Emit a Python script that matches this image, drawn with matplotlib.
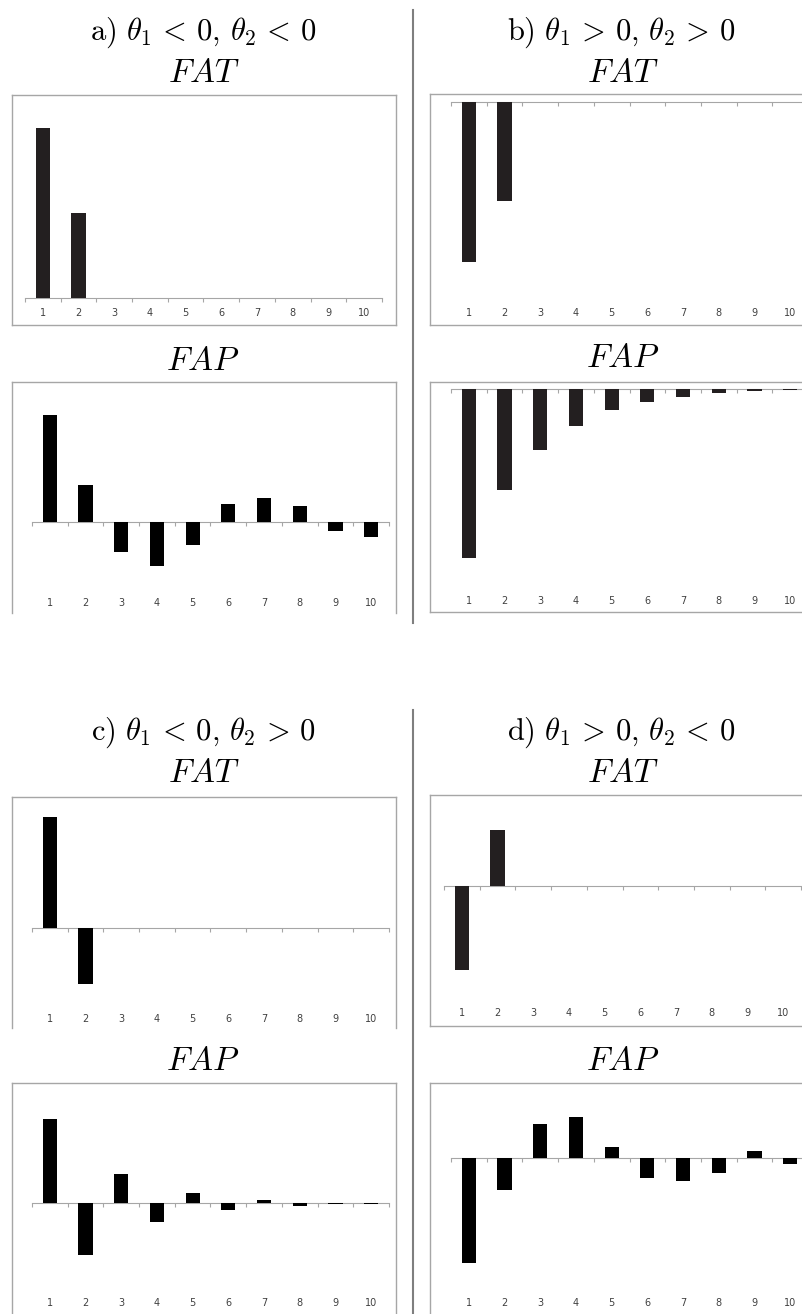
import matplotlib
matplotlib.use("Agg")
import matplotlib.pyplot as plt
from matplotlib.lines import Line2D
import numpy as np

plt.rcParams['mathtext.fontset'] = 'cm'

W, H = 803, 1314
lags = list(range(1, 11))

# bar heights (arbitrary units)
fat_a = [170, 85, 0, 0, 0, 0, 0, 0, 0, 0]
fap_a = [107, 37, -30, -44, -23, 18, 24, 16, -9, -15]
fat_b = [-160, -99, 0, 0, 0, 0, 0, 0, 0, 0]
fap_b = [-169, -101, -61, -37, -21, -13, -8, -4, -2.5, -1]
fat_c = [111, -56, 0, 0, 0, 0, 0, 0, 0, 0]
fap_c = [84, -52, 29, -19, 10, -7, 3.5, -2.5, -0.5, -1.3]
fat_d = [-84, 56, 0, 0, 0, 0, 0, 0, 0, 0]
fap_d = [-105, -32, 34, 41, 11, -20, -23, -15, 7, -6]

titles = [r"$\mathrm{a)}\ \theta_1 \,<\, 0,\, \theta_2 \,<\, 0$",
          r"$\mathrm{b)}\ \theta_1 \,>\, 0,\, \theta_2 \,>\, 0$",
          r"$\mathrm{c)}\ \theta_1 \,<\, 0,\, \theta_2 \,>\, 0$",
          r"$\mathrm{d)}\ \theta_1 \,>\, 0,\, \theta_2 \,<\, 0$"]

fig = plt.figure(figsize=(W / 100, H / 100), dpi=100)
frame_col = '#a6a6a6'


def panel(box, base, x_start, lab_y, vals, color, bottom_edge, step=35.7):
    x0, y0, x1, y1 = box
    rect = [x0 / W, 1 - y1 / H, (x1 - x0) / W, (y1 - y0) / H]
    # outer frame
    fr = fig.add_axes(rect)
    fr.set_xticks([])
    fr.set_yticks([])
    for sp in fr.spines.values():
        sp.set_color(frame_col)
        sp.set_linewidth(1)
    fr.spines['bottom'].set_visible(bottom_edge)

    ax = fig.add_axes(rect)
    ax.patch.set_visible(False)
    ax.set_xlim(0.5 + (x0 - x_start) / step, 0.5 + (x1 - x_start) / step)
    ax.set_ylim(base - y1, base - y0)
    ax.bar(lags, vals, width=0.4, color=color, zorder=3)
    for s in ['left', 'right', 'top']:
        ax.spines[s].set_visible(False)
    ax.spines['bottom'].set_position(('data', 0))
    ax.spines['bottom'].set_bounds(0.5, 10.5)
    ax.spines['bottom'].set_color(frame_col)
    ax.set_yticks([])
    ax.set_xticks(np.arange(0.5, 11, 1))
    ax.set_xticklabels([])
    ax.tick_params(axis='x', length=3, color=frame_col, direction='out')

    sec = ax.secondary_xaxis((y1 - (lab_y - 4.5)) / (y1 - y0))
    sec.patch.set_visible(False)
    sec.set_xticks(lags)
    sec.tick_params(length=0, pad=0, labelsize=7, labelcolor='#404040')
    for sp in sec.spines.values():
        sp.set_visible(False)


panel((12, 95, 396, 325), 298, 25, 313, fat_a, '#231f20', True)
panel((12, 382, 396, 613), 522, 32, 602, fap_a, 'black', False)
panel((430, 94, 812, 325), 102, 451, 313, fat_b, '#231f20', True)
panel((430, 382, 812, 612), 389, 451, 600, fap_b, '#231f20', True)
panel((12, 797, 396, 1028), 928, 32, 1018, fat_c, 'black', False)
panel((12, 1083, 396, 1320), 1203, 32, 1303, fap_c, 'black', False)
panel((430, 795, 812, 1026), 886, 444, 1013, fat_d, '#231f20', True)
panel((430, 1083, 812, 1320), 1158, 451, 1303, fap_d, 'black', False)

# headings
for t, cx, cy in zip(titles, [203, 621, 203, 621], [33, 33, 733, 733]):
    fig.text(cx / W, 1 - cy / H, t, ha='center', va='center', fontsize=22)
for cx, cy in [(204, 72), (623, 72), (204, 772), (623, 772)]:
    fig.text(cx / W, 1 - cy / H, r"$FAT$", ha='center', va='center', fontsize=24)
for cx, cy in [(203, 360), (623, 358), (203, 1060), (623, 1060)]:
    fig.text(cx / W, 1 - cy / H, r"$FAP$", ha='center', va='center', fontsize=24)

# vertical dividers
fig.add_artist(Line2D([413 / W] * 2, [1 - 10 / H, 1 - 623 / H], color='#7f7f7f', lw=1.5))
fig.add_artist(Line2D([413 / W] * 2, [1 - 710 / H, 0], color='#7f7f7f', lw=1.5))

fig.savefig("out.png", dpi=100)
